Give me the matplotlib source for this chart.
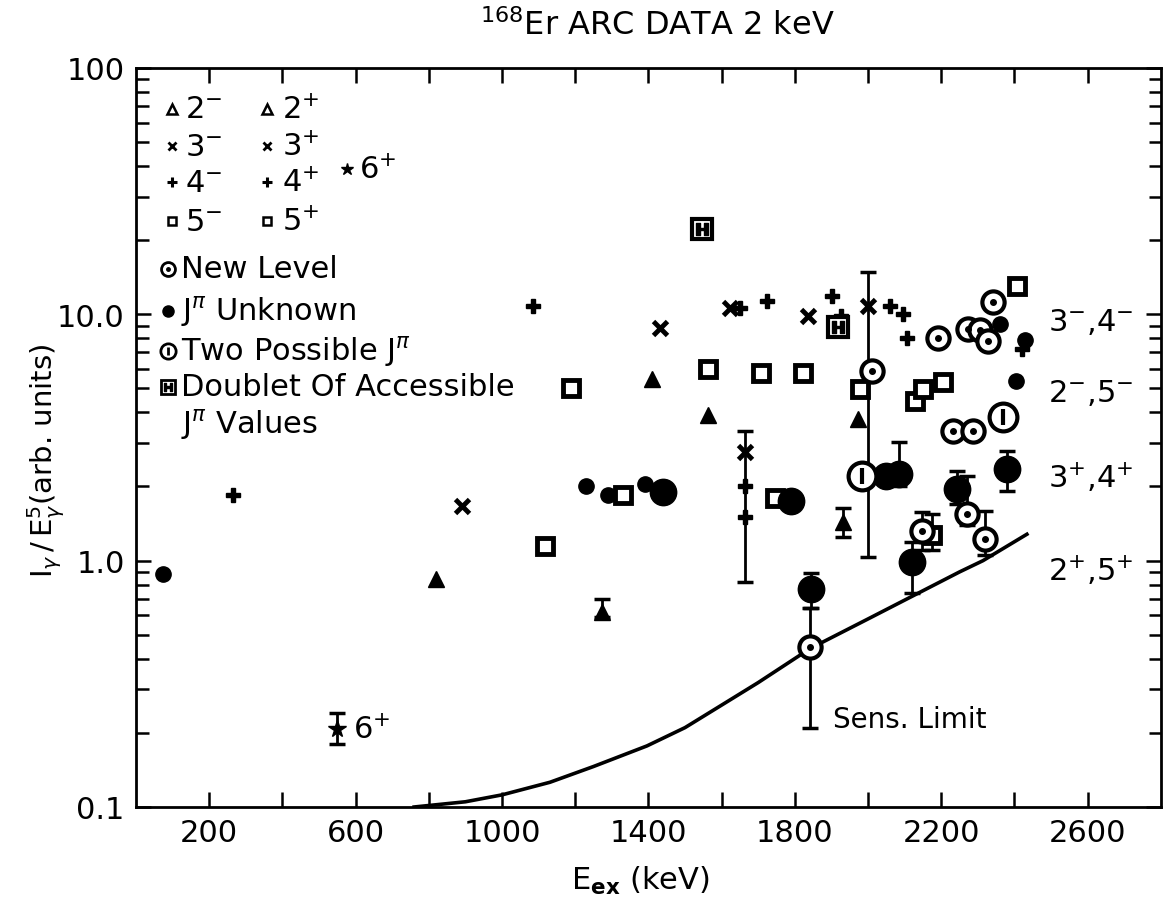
import numpy as np
import matplotlib.pyplot as plt
from matplotlib.ticker import FixedLocator, FixedFormatter, LogLocator, NullFormatter

plt.rcParams['font.family'] = ['DejaVu Sans']
plt.rcParams['mathtext.fontset'] = 'dejavusans'

# E_ex (keV) and I/E^5, grouped by symbol
tri_e = [821, 1273, 1411, 1563, 1932, 1973]
tri_v = [0.84, 0.62, 5.46, 3.9, 1.44, 3.76]

cross_e = [891, 1432, 1623, 1836, 2000, 1664]
cross_v = [1.67, 8.8, 10.6, 9.85, 10.8, 2.76]

plus_e = [264, 1085, 1650, 1724, 1902, 1925, 2060, 2096, 2107, 2421, 1664, 1664]
plus_v = [1.85, 10.8, 10.6, 11.3, 11.9, 9.8, 10.8, 10.0, 8.0, 7.2, 2.0, 1.5]

sq_e = [1117, 1189, 1330, 1563, 1708, 1745, 1822, 1978, 2128, 2150, 2175, 2205, 2407]
sq_v = [1.15, 5.0, 1.85, 6.0, 5.78, 1.8, 5.78, 4.97, 4.45, 4.97, 1.27, 5.3, 13.0]

six_e = [549]
six_v = [0.207]

new_e = [1842, 2011, 2148, 2191, 2232, 2270, 2273, 2287, 2306, 2320, 2328, 2342]
new_v = [0.446, 5.9, 1.32, 8.0, 3.36, 1.55, 8.7, 3.36, 8.6, 1.22, 7.8, 11.2]

dot_e = [75, 1230, 1290, 1390, 2361, 2404, 2430]
dot_v = [0.88, 2.0, 1.85, 2.05, 9.1, 5.36, 7.9]
bigdot_e = [1440, 1790, 1845, 2050, 2085, 2120, 2243, 2380]
bigdot_v = [1.9, 1.75, 0.77, 2.2, 2.25, 0.99, 1.95, 2.35]

two_e = [1984, 2369]
two_v = [2.2, 3.83]

dbl_e = [1546, 1918]
dbl_v = [22.2, 8.9]

# error bars: energy, lower, upper
err_e = [549, 1273, 1664, 1842, 1845, 1932, 2000, 2085, 2120, 2148, 2175, 2243, 2270, 2320, 2380]
err_lo = [0.18, 0.59, 0.82, 0.21, 0.64, 1.25, 1.03, 2.0, 0.74, 1.1, 1.1, 1.7, 1.4, 1.05, 1.92]
err_hi = [0.24, 0.70, 3.36, 0.64, 0.89, 1.64, 14.9, 3.03, 1.19, 1.57, 1.55, 2.31, 2.2, 1.59, 2.79]

# sensitivity limit curve
sens_e = [760, 900, 1000, 1131, 1250, 1396, 1500, 1596, 1700, 1842, 2000, 2123, 2250, 2314, 2434]
sens_v = [0.1, 0.105, 0.112, 0.126, 0.146, 0.177, 0.21, 0.257, 0.32, 0.44, 0.58, 0.72, 0.9, 1.0, 1.28]

right_labels = ['3$^{-}$,4$^{-}$', '2$^{-}$,5$^{-}$', '3$^{+}$,4$^{+}$', '2$^{+}$,5$^{+}$']
right_v = [9.4, 4.84, 2.2, 0.925]

fig = plt.figure(figsize=(11.66, 9.04), dpi=100)
ax = fig.add_axes([0.1166, 0.1062, 0.879, 0.8175])
ax.set_yscale('log')
ax.set_xlim(0, 2800)
ax.set_ylim(0.1, 100)

k = 'black'
ax.plot(sens_e, sens_v, color=k, lw=2.6)

ax.vlines(err_e, err_lo, err_hi, color=k, lw=2)
ax.plot(err_e, err_lo, ls='none', marker='_', ms=12, mew=2.5, color=k)
ax.plot(err_e, err_hi, ls='none', marker='_', ms=12, mew=2.5, color=k)

ax.plot(tri_e, tri_v, ls='none', marker='^', ms=11, color=k)
ax.plot(cross_e, cross_v, ls='none', marker='x', ms=10, mew=3.5, color=k)
ax.plot(plus_e, plus_v, ls='none', marker='P', ms=10, color=k)
ax.plot(sq_e, sq_v, ls='none', marker='s', ms=11, mew=3.5, mfc='white', color=k)
ax.plot(six_e, six_v, ls='none', marker='*', ms=13, color=k)
ax.plot(new_e, new_v, ls='none', marker='o', ms=16, mew=3, mfc='white', color=k)
ax.plot(new_e, new_v, ls='none', marker='o', ms=4, color=k)
ax.plot(dot_e, dot_v, ls='none', marker='o', ms=11, color=k)
ax.plot(bigdot_e, bigdot_v, ls='none', marker='o', ms=19, color=k)
ax.plot(two_e, two_v, ls='none', marker='o', ms=20, mew=3, mfc='white', color=k)
ax.plot(two_e, two_v, ls='none', marker='|', ms=11, mew=3, color=k)
ax.plot(dbl_e, dbl_v, ls='none', marker='s', ms=15, mew=3, mfc='white', color=k)
ax.plot(dbl_e, dbl_v, ls='none', marker=r'$\mathbf{H}$', ms=9, color=k)

# legend drawn by hand, as in the original
fs = 22
rows = [68.2, 48.2, 34.4, 23.9]
mk = [dict(marker='^', ms=7, mew=1.8, mfc='white'), dict(marker='x', ms=6, mew=2),
      dict(marker='+', ms=7, mew=2.2), dict(marker='s', ms=6, mew=1.8, mfc='white')]
for i, (r, m) in enumerate(zip(rows, mk)):
    for xm, xt, sgn in [(98, 135, '-'), (358, 398, '+')]:
        ax.plot([xm], [r], ls='none', color=k, **m)
        ax.text(xt, r, '%d$^{%s}$' % (i + 2, sgn), fontsize=fs, va='center', ha='left')
ax.plot([577], [38.9], ls='none', marker='*', ms=9, color=k)
ax.text(608, 38.9, '6$^{+}$', fontsize=fs, va='center')

ax.plot([87], [15.3], ls='none', marker='o', ms=10, mew=2, mfc='white', color=k)
ax.plot([87], [15.3], ls='none', marker='o', ms=2.5, color=k)
ax.text(122, 15.3, 'New Level', fontsize=fs, va='center')
ax.plot([87], [10.3], ls='none', marker='o', ms=8, color=k)
ax.text(122, 10.3, 'J$^{\\pi}$ Unknown', fontsize=fs, va='center')
ax.plot([87], [7.1], ls='none', marker='o', ms=11, mew=2, mfc='white', color=k)
ax.plot([87], [7.1], ls='none', marker='|', ms=6, mew=2, color=k)
ax.text(122, 7.1, 'Two Possible J$^{\\pi}$', fontsize=fs, va='center')
ax.plot([87], [5.07], ls='none', marker='s', ms=10, mew=2, mfc='white', color=k)
ax.plot([87], [5.07], ls='none', marker=r'$\mathbf{H}$', ms=6, color=k)
ax.text(122, 5.07, 'Doublet Of Accessible', fontsize=fs, va='center')
ax.text(122, 3.59, 'J$^{\\pi}$ Values', fontsize=fs, va='center')

ax.text(592, 0.207, '6$^{+}$', fontsize=fs, va='center')
ax.text(1905, 0.227, 'Sens. Limit', fontsize=20, va='center')
for lab, v in zip(right_labels, right_v):
    ax.text(2492, v, lab, fontsize=fs, va='center')

# ticks
xt = list(range(200, 2800, 200))
ax.xaxis.set_major_locator(FixedLocator(xt))
ax.xaxis.set_major_formatter(FixedFormatter([str(t) if t % 400 == 200 else '' for t in xt]))
ax.yaxis.set_major_locator(FixedLocator([0.1, 1, 10, 100]))
ax.yaxis.set_major_formatter(FixedFormatter(['0.1', '1.0', '10.0', '100']))
ax.yaxis.set_minor_locator(LogLocator(base=10, subs=np.arange(2, 10)))
ax.yaxis.set_minor_formatter(NullFormatter())
ax.tick_params(which='both', direction='in', top=True, right=True, width=1.8, labelsize=22)
ax.tick_params(which='major', length=11, pad=8)
ax.tick_params(which='minor', length=9)
for s in ax.spines.values():
    s.set_linewidth(2)

fig.text(0.564, 0.972, '$^{168}$Er ARC DATA 2 keV', fontsize=23, ha='center', va='center')
fig.text(0.04, 0.49, r'$\mathrm{I}_{\gamma}\,/\,\mathrm{E}_{\gamma}^{5}$(arb. units)',
         fontsize=21, rotation=90, ha='center', va='center')
fig.text(0.549, 0.025, 'E$_{\\mathbf{ex}}$ (keV)', fontsize=22, ha='center', va='center')

fig.savefig('out.png', dpi=100)
